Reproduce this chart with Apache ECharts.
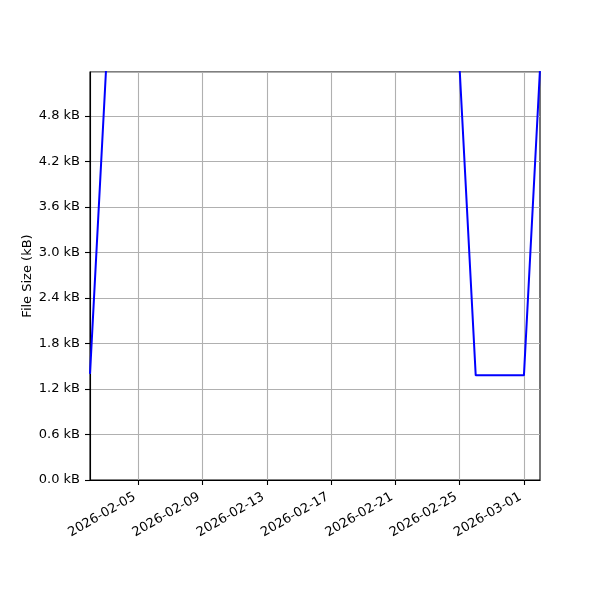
<!DOCTYPE html>
<html>
<head>
<meta charset="utf-8">
<script src="https://cdn.jsdelivr.net/npm/echarts@6/dist/echarts.min.js"></script>
<style>
html,body{margin:0;padding:0;background:#fff;}
#chart{width:600px;height:600px;}
</style>
</head>
<body>
<div id="chart"></div>
<script>
const dates = [
  '2026-02-02','2026-02-03','2026-02-04','2026-02-05','2026-02-06','2026-02-07','2026-02-08',
  '2026-02-09','2026-02-10','2026-02-11','2026-02-12','2026-02-13','2026-02-14','2026-02-15',
  '2026-02-16','2026-02-17','2026-02-18','2026-02-19','2026-02-20','2026-02-21','2026-02-22',
  '2026-02-23','2026-02-24','2026-02-25','2026-02-26','2026-02-27','2026-02-28','2026-03-01',
  '2026-03-02'
];
const fileSizeKB = [
  1.40, 5.42, 5.42, 5.42, 5.42, 5.42, 5.42,
  5.42, 5.42, 5.42, 5.42, 5.42, 5.42, 5.42,
  5.42, 5.42, 5.42, 5.42, 5.42, 5.42, 5.42,
  5.42, 5.42, 5.42, 1.38, 1.38, 1.38, 1.38,
  5.42
];
const yMax = 5.38;
const yTicks = [0, 0.6, 1.2, 1.8, 2.4, 3.0, 3.6, 4.2, 4.8];

const font = 'DejaVu Sans';
const tickIdx = (i) => i >= 3 && (i - 3) % 4 === 0;

const chart = echarts.init(document.getElementById('chart'));
chart.setOption({
  animation: false,
  backgroundColor: '#fff',
  grid: { left: 90, right: 60, top: 72, bottom: 120, show: true, borderColor: '#000', borderWidth: 1.1 },
  xAxis: {
    type: 'category',
    data: dates,
    boundaryGap: false,
    axisLine: { show: true, lineStyle: { color: '#000', width: 1.1 } },
    axisTick: { show: true, interval: (i) => tickIdx(i), length: 5, lineStyle: { color: '#000', width: 1.1 } },
    axisLabel: { interval: (i) => tickIdx(i), rotate: 30, color: '#000', fontFamily: font, fontSize: 13, margin: 14, padding: [0, 4, 0, 0] },
    splitLine: { show: true, interval: (i) => tickIdx(i), lineStyle: { color: '#b0b0b0', width: 1.1 } }
  },
  yAxis: {
    type: 'value',
    min: 0,
    max: yMax,
    interval: 0.6,
    name: 'File Size (kB)',
    nameLocation: 'middle',
    nameGap: 56,
    nameMoveOverlap: false,
    nameTextStyle: { color: '#000', fontFamily: font, fontSize: 13 },
    axisLine: { show: true, lineStyle: { color: '#000', width: 1.1 } },
    axisTick: { show: true, length: 5, lineStyle: { color: '#000', width: 1.1 } },
    axisLabel: {
      color: '#000', fontFamily: font, fontSize: 13, margin: 10, showMaxLabel: false,
      formatter: (v) => {
        const t = yTicks.find(x => Math.abs(x - v) < 1e-6);
        return t === undefined ? '' : t.toFixed(1) + ' kB';
      }
    },
    splitLine: { show: true, lineStyle: { color: '#b0b0b0', width: 1.1 } }
  },
  series: [{
    type: 'line',
    data: fileSizeKB,
    showSymbol: false,
    clip: true,
    lineStyle: { color: '#0000ff', width: 2 },
    itemStyle: { color: '#0000ff' }
  }]
});
</script>
</body>
</html>
